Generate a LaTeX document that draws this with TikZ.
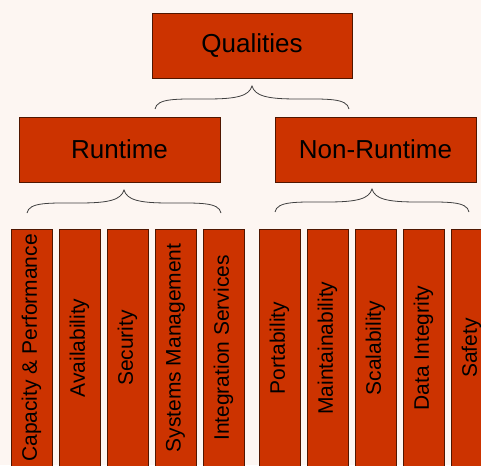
\documentclass[tikz,border=0pt]{standalone}
\usepackage{fontspec}
\setmainfont{Liberation Sans}
\usetikzlibrary{shadows}

\definecolor{qbg}{RGB}{253,246,242}
\definecolor{qfill}{RGB}{204,51,0}
\definecolor{qedge}{RGB}{80,22,0}

\tikzset{
  qbox/.style={draw=qedge, line width=0.9pt, fill=qfill, inner sep=0pt,
    drop shadow={shadow xshift=1pt, shadow yshift=-1pt, fill=black!50, opacity=1}},
  headbox/.style={qbox, minimum width=201pt, minimum height=65pt,
    font=\fontsize{26}{30}\selectfont},
  leafbox/.style={qbox, rotate=90, minimum width=238pt, minimum height=41pt,
    font=\fontsize{21}{25}\selectfont},
  groupbrace/.pic={
    \draw[black!75, line width=0.8pt]
      (-97,23) .. controls (-95,12) and (-75,13) .. (-45,13)
      .. controls (-15,13) and (-3,10) .. (0,0)
      .. controls (3,10) and (15,13) .. (45,13)
      .. controls (75,13) and (95,12) .. (97,23);
  }
}

\begin{document}
\begin{tikzpicture}[x=1pt, y=-1pt]
  \useasboundingbox (0,0) rectangle (481,465);
  \fill[qbg] (0,0) rectangle (481,465);
  \clip (0,0) rectangle (481,465);

  % top levels
  \node[headbox, minimum width=200pt] (qual) at (252,45.5) {Qualities};
  \node[headbox] (run) at (119.5,149.5) {Runtime};
  \node[headbox] (nonrun) at (375.5,149.5) {Non-Runtime};

  % braces
  \coordinate (tq) at (252,86);
  \coordinate (tr) at (124,190);
  \coordinate (tn) at (372,189);
  \pic at (tq) {groupbrace};
  \pic at (tr) {groupbrace};
  \pic at (tn) {groupbrace};

  % leaf qualities
  \foreach \x/\txt [count=\i] in {31.5/Capacity \& Performance, 79.5/Availability,
      127.5/Security, 175.5/Systems Management, 223.5/Integration Services,
      279.5/Portability, 327.5/Maintainability, 375.5/Scalability,
      423.5/Data Integrity, 471.5/Safety}
    \node[leafbox] (leaf\i) at (\x,348) {\txt};
\end{tikzpicture}
\end{document}
